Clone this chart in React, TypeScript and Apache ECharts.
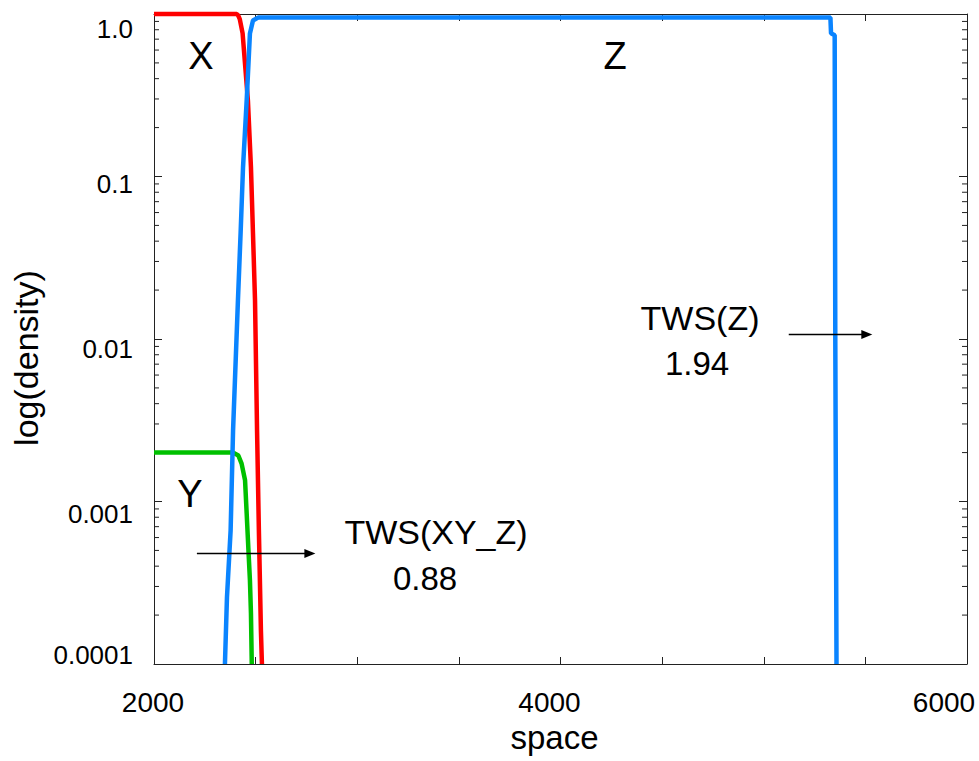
import React, { useEffect, useRef } from "react";
import * as echarts from "echarts";

// ---- data ----
const xRed = [2000, 2407, 2414, 2422, 2436, 2462, 2477, 2487, 2497, 2507, 2516, 2526, 2531];
const yRed = [1.0, 1.0, 0.98, 0.93, 0.76, 0.294, 0.114, 0.0446, 0.0173, 0.00274, 0.000664, 0.000161, 0.0001];

const xGreen = [2000, 2390, 2415, 2431, 2448, 2456, 2464, 2472, 2477, 2481];
const yGreen = [0.002, 0.002, 0.00192, 0.00171, 0.00135, 0.000843, 0.000521, 0.000327, 0.000205, 0.0001];

const xBlue = [2349, 2359, 2377, 2389, 2413, 2426, 2438, 2456, 2472, 2487, 2512, 5328, 5331, 5349, 5352, 5358];
const yBlue = [0.0001, 0.000257, 0.000664, 0.00274, 0.0173, 0.0446, 0.114, 0.294, 0.759, 0.912, 0.95, 0.95, 0.76, 0.74, 0.01, 0.0001];

// y tick labels by decade exponent (-4 .. 0)
const yTickLabels = ["0.0001", "0.001", "0.01", "0.1", "1.0"];
const xTickLabels = ["2000", "4000", "6000"];
// minor log ticks
const minorMultipliers = [2, 3, 4, 5, 6, 7, 8, 9];
const minorDecades = [0.0001, 0.001, 0.01, 0.1];

// arrows (data coordinates)
const arrowXYZ = { y: 0.000479, from: 2211, to: 2767 };
const arrowZ = { y: 0.01066, from: 5123, to: 5507 };

const FONT = "'Liberation Sans', Arial, Helvetica, sans-serif";
const LINE_W = 4.5;

export default function App() {
  const ref = useRef<HTMLDivElement>(null);
  useEffect(() => {
    if (!ref.current) return;
    const chart = echarts.init(ref.current, null, { renderer: "svg" });
    const pair = (xs: number[], ys: number[]) => xs.map((x, i) => [x, ys[i]]);
    const minorVals: number[] = [];
    minorDecades.forEach((d) => minorMultipliers.forEach((m) => minorVals.push(+(m * d).toPrecision(3))));

    const yRich: any = {
      e0: { fontSize: 26, fontFamily: FONT, color: "#000", padding: [30, 0, 0, 0] },
      e1: { fontSize: 26, fontFamily: FONT, color: "#000", padding: [14, 0, 0, 0] },
      e2: { fontSize: 26, fontFamily: FONT, color: "#000", padding: [20, 0, 0, 0] },
      e3: { fontSize: 26, fontFamily: FONT, color: "#000", padding: [24, 0, 0, 0] },
      e4: { fontSize: 26, fontFamily: FONT, color: "#000", padding: [0, 0, 18, 0] },
    };
    const xRich: any = {
      a: { fontSize: 28, fontFamily: FONT, color: "#000", lineHeight: 28, padding: [0, 2, 0, 0] },
      b: { fontSize: 28, fontFamily: FONT, color: "#000", lineHeight: 28, padding: [0, 22, 0, 0] },
      c: { fontSize: 28, fontFamily: FONT, color: "#000", lineHeight: 28, padding: [0, 46, 0, 0] },
    };

    const axisLineStyle = { color: "#222", width: 1 };

    const option: any = {
      animation: false,
      backgroundColor: "#fff",
      grid: { left: 154, top: 14, width: 813, height: 650, containLabel: false, outerBoundsMode: "none" },
      xAxis: [
        {
          type: "value",
          min: 2000,
          max: 6000,
          interval: 500,
          position: "bottom",
          axisLine: { show: true, lineStyle: axisLineStyle },
          axisTick: { show: true, inside: true, length: 7, lineStyle: axisLineStyle },
          splitLine: { show: false },
          axisLabel: {
            margin: 24,
            verticalAlign: "top",
            formatter: (v: number) => {
              const idx = xTickLabels.indexOf(String(Math.round(v)));
              if (idx < 0) return "";
              return "{" + ["a", "b", "c"][idx] + "|" + xTickLabels[idx] + "}";
            },
            rich: xRich,
          },
          name: "space",
          nameLocation: "middle",
          nameGap: 56,
          nameTextStyle: { fontSize: 33, fontFamily: FONT, color: "#000", lineHeight: 33, padding: [0, 12, 0, 0] },
        },
        {
          type: "value",
          min: 2000,
          max: 6000,
          interval: 500,
          position: "top",
          axisLine: { show: true, lineStyle: axisLineStyle },
          axisTick: { show: true, inside: true, length: 7, lineStyle: axisLineStyle },
          splitLine: { show: false },
          axisLabel: { show: false },
        },
      ],
      yAxis: [
        {
          type: "log",
          logBase: 10,
          min: 0.0001,
          max: 1,
          position: "left",
          axisLine: { show: true, lineStyle: axisLineStyle },
          axisTick: { show: true, inside: true, length: 8, lineStyle: axisLineStyle },
          splitLine: { show: false },
          axisLabel: {
            margin: 21,
            formatter: (v: number) => {
              const e = Math.round(Math.log10(v));
              const i = e + 4;
              if (i < 0 || i > 4) return "";
              return "{e" + (4 - i) + "|" + yTickLabels[i] + "}";
            },
            rich: yRich,
          },
          name: "log(density)",
          nameLocation: "middle",
          nameGap: 108,
          nameRotate: 90,
          nameTextStyle: { fontSize: 34, fontFamily: FONT, color: "#000", padding: [0, 38, 0, 0] },
        },
        {
          type: "log",
          logBase: 10,
          min: 0.0001,
          max: 1,
          position: "right",
          axisLine: { show: true, lineStyle: axisLineStyle },
          axisTick: { show: true, inside: true, length: 8, lineStyle: axisLineStyle },
          splitLine: { show: false },
          axisLabel: { show: false },
        },
      ],
      series: [
        {
          type: "custom",
          name: "minorTicks",
          silent: true,
          clip: false,
          xAxisIndex: 0,
          yAxisIndex: 0,
          data: minorVals.map((v) => [2000, v]),
          renderItem: (params: any, api: any) => {
            const v = api.value(1);
            const p = api.coord([2000, v]);
            const q = api.coord([6000, v]);
            const st = { stroke: "#222", lineWidth: 1 };
            return {
              type: "group",
              children: [
                { type: "line", shape: { x1: p[0], y1: p[1], x2: p[0] + 5, y2: p[1] }, style: st },
                { type: "line", shape: { x1: q[0], y1: q[1], x2: q[0] - 5, y2: q[1] }, style: st },
              ],
            };
          },
        },
        {
          type: "line",
          name: "X",
          data: pair(xRed, yRed),
          showSymbol: false,
          clip: false,
          lineStyle: { color: "#ff0000", width: LINE_W },
          itemStyle: { color: "#ff0000" },
          silent: true,
        },
        {
          type: "line",
          name: "Y",
          data: pair(xGreen, yGreen),
          showSymbol: false,
          clip: false,
          lineStyle: { color: "#00c000", width: LINE_W },
          itemStyle: { color: "#00c000" },
          silent: true,
          markLine: {
            silent: true,
            symbol: ["none", "triangle"],
            symbolSize: [9, 11],
            label: { show: false },
            lineStyle: { color: "#000", width: 1.3, type: "solid" },
            itemStyle: { color: "#000" },
            emphasis: { disabled: true },
            data: [
              [
                { coord: [arrowXYZ.from, arrowXYZ.y] },
                { coord: [arrowXYZ.to, arrowXYZ.y] },
              ],
              [
                { coord: [arrowZ.from, arrowZ.y] },
                { coord: [arrowZ.to, arrowZ.y] },
              ],
            ],
          },
        },
        {
          type: "line",
          name: "Z",
          data: pair(xBlue, yBlue),
          showSymbol: false,
          clip: false,
          lineStyle: { color: "#0a84ff", width: LINE_W },
          itemStyle: { color: "#0a84ff" },
          silent: true,
        },
      ],
      graphic: [
        { type: "text", x: 201, y: 56, style: { text: "X", font: `38px ${FONT}`, fill: "#000", align: "center", verticalAlign: "middle" } },
        { type: "text", x: 615, y: 56, style: { text: "Z", font: `38px ${FONT}`, fill: "#000", align: "center", verticalAlign: "middle" } },
        { type: "text", x: 190, y: 494, style: { text: "Y", font: `38px ${FONT}`, fill: "#000", align: "center", verticalAlign: "middle" } },
        { type: "text", x: 436, y: 532, style: { text: "TWS(XY_Z)", font: `34px ${FONT}`, fill: "#000", align: "center", verticalAlign: "middle" } },
        { type: "text", x: 425, y: 578, style: { text: "0.88", font: `33px ${FONT}`, fill: "#000", align: "center", verticalAlign: "middle" } },
        { type: "text", x: 700, y: 318, style: { text: "TWS(Z)", font: `34px ${FONT}`, fill: "#000", align: "center", verticalAlign: "middle" } },
        { type: "text", x: 697, y: 363, style: { text: "1.94", font: `33px ${FONT}`, fill: "#000", align: "center", verticalAlign: "middle" } },
      ],
    };
    chart.setOption(option);
    return () => chart.dispose();
  }, []);
  return (
    <div
      ref={ref}
      style={{ position: "absolute", left: 0, top: 0, width: 979, height: 761, background: "#fff" }}
    />
  );
}
